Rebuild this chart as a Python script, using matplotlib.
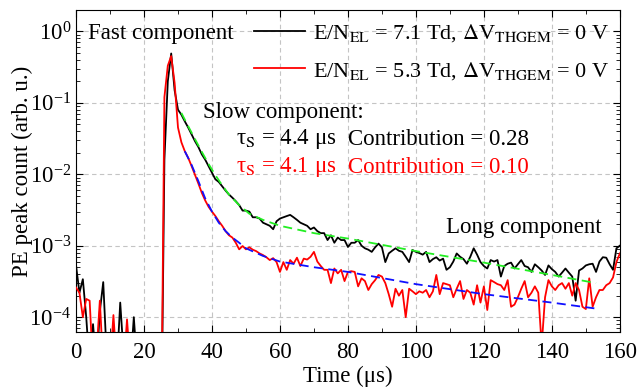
import numpy as np
import matplotlib
matplotlib.use('Agg')
import matplotlib.pyplot as plt
from matplotlib.ticker import MultipleLocator, LogLocator, NullFormatter

plt.rcParams['font.family'] = ['Liberation Serif', 'DejaVu Serif']
plt.rcParams['mathtext.fontset'] = 'stix'
fs = 16.5

# time axis (us), 1 us bins
time = np.arange(0, 161)

# E/N_EL = 7.1 Td (black)
black = [5.3e-4, 2.2e-4, 3.4e-4, 1.0e-4, 2e-5, 8e-5, 2e-5, 1.2e-4, 3.1e-4, 3e-5,
         2e-5, 7e-5, 2e-5, 1.6e-4, 3e-5, 2e-5, 2e-5, 1.0e-4, 2e-5, 1e-6,
         1e-6, 1e-6, 1e-6, 1e-6, 1e-6, 1e-6, 0.016, 0.2, 0.49, 0.15,
         0.08, 0.068, 0.055, 0.045, 0.036, 0.029, 0.024, 0.019, 0.016, 0.013,
         0.0105, 0.0085, 0.0078, 0.0068, 0.0059, 0.0052, 0.0047, 0.0042, 0.0037, 0.0031,
         0.0031, 0.0030, 0.0025, 0.0025, 0.0024, 0.0021, 0.0020, 0.0019, 0.0017, 0.0022,
         0.0024, 0.0025, 0.0026, 0.0027, 0.0025, 0.0023, 0.0021, 0.0020, 0.0019, 0.0017,
         0.0018, 0.0016, 0.0015, 0.0015, 0.0012, 0.0014, 0.0011, 0.0013, 0.0012, 0.0012,
         0.00096, 0.0011, 0.0011, 0.0012, 0.0010, 0.00092, 0.00088, 0.00082, 0.00095, 0.00107,
         0.00095, 0.00059, 0.00078, 0.00085, 0.00092, 0.00085, 0.00082, 0.00070, 0.00059, 0.00087,
         0.00082, 0.00079, 0.00075, 0.00082, 0.00059, 0.00065, 0.00069, 0.00062, 0.00066, 0.00046,
         0.00050, 0.00060, 0.00078, 0.00070, 0.00065, 0.00056, 0.00070, 0.00092, 0.00075, 0.00059,
         0.00052, 0.00048, 0.00063, 0.00060, 0.00063, 0.00037, 0.00052, 0.00056, 0.00058, 0.00048,
         0.00055, 0.00063, 0.00052, 0.00050, 0.00043, 0.00055, 0.00050, 0.00045, 0.00039, 0.00053,
         0.00047, 0.00043, 0.00037, 0.00042, 0.00048, 0.00042, 0.00037, 0.00017, 0.00045, 0.00048,
         0.00053, 0.00055, 0.00056, 0.00043, 0.00060, 0.00069, 0.00068, 0.00055, 0.00046, 0.00092,
         0.0010]

# E/N_EL = 5.3 Td (red)
red = [2.6e-4, 2.2e-4, 1.0e-4, 1.8e-4, 1.7e-4, 2e-5, 3e-5, 1.7e-4, 2e-5, 1e-5,
       2e-5, 1.07e-4, 2e-5, 1e-5, 2e-5, 9.3e-5, 2e-5, 1e-6, 1e-6, 1e-6,
       1e-6, 1e-6, 1e-6, 1e-6, 1e-6, 1e-6, 0.12, 0.33, 0.45, 0.19,
       0.045, 0.028, 0.021, 0.017, 0.013, 0.0098, 0.0074, 0.0055, 0.0043, 0.0035,
       0.0030, 0.0026, 0.0022, 0.0019, 0.0016, 0.0014, 0.0013, 0.0011, 0.00089, 0.00099,
       0.00089, 0.00095, 0.00088, 0.00084, 0.00078, 0.00074, 0.00069, 0.00063, 0.00067, 0.00059,
       0.00043, 0.00059, 0.00046, 0.00063, 0.00056, 0.00068, 0.00052, 0.00066, 0.00064, 0.00070,
       0.00082, 0.00060, 0.00052, 0.00046, 0.00046, 0.00030, 0.00048, 0.00041, 0.00046, 0.00032,
       0.00043, 0.00044, 0.00043, 0.00027, 0.00035, 0.00032, 0.00024, 0.00029, 0.00033, 0.00039,
       0.00037, 0.00030, 0.00021, 0.00014, 0.00025, 0.00020, 0.00024, 0.00010, 0.00025, 0.00023,
       0.00021, 0.00023, 0.00022, 0.00024, 0.00019, 0.00023, 0.00039, 0.00021, 0.00030, 0.00029,
       0.00028, 0.00019, 0.00025, 0.00032, 0.00018, 0.00024, 0.00022, 0.00015, 0.00028, 0.00016,
       0.00027, 0.000126, 0.00033, 0.00031, 0.00029, 0.00028, 0.00024, 0.00033, 0.00014, 0.00015,
       0.00019, 0.00025, 0.00032, 0.00019, 0.00022, 0.00027, 0.00022, 4e-5, 0.00019, 0.00033,
       0.00027, 0.00024, 0.00028, 0.00030, 0.00025, 0.00030, 0.00020, 0.00030, 0.00024, 0.00014,
       0.00013, 0.00035, 0.00014, 0.00019, 0.00024, 0.00024, 0.00028, 0.00030, 0.00036, 0.00059,
       0.00078]

# fit curves
fit_black_t = [31, 33, 35, 37, 39, 41, 43, 45, 48, 51, 55, 60, 70, 80, 100, 120, 140, 153]
fit_black = [0.072, 0.047, 0.031, 0.0206, 0.0139, 0.0097, 0.0070, 0.0052, 0.0037, 0.0028,
             0.0023, 0.0019, 0.0015, 0.00126, 0.00084, 0.00058, 0.00039, 0.00030]
fit_red_t = [32, 34, 36, 38, 40, 42, 44, 46, 48, 50, 55, 60, 70, 80, 100, 120, 140, 154]
fit_red = [0.021, 0.0135, 0.0080, 0.0046, 0.0030, 0.0021, 0.0016, 0.0013, 0.0011, 0.00092,
           0.00072, 0.00060, 0.00050, 0.00043, 0.00029, 0.00021, 0.00016, 0.00013]

fig = plt.figure(figsize=(6.39, 3.92), dpi=100)
ax = fig.add_axes([0.119, 0.153, 0.851, 0.822])

l1, = ax.plot(time, black, color='black', lw=1.3, zorder=3)
l2, = ax.plot(time, red, color='red', lw=1.3, zorder=3)
ax.plot(fit_black_t, fit_black, color='#22ee22', lw=1.3, ls=(0, (5, 3)), zorder=4)
ax.plot(fit_red_t, fit_red, color='#1010ff', lw=1.3, ls=(0, (5, 3)), zorder=4)

ax.set_yscale('log')
ax.set_xlim(0, 160)
ax.set_ylim(6.2e-5, 2.0)
ax.xaxis.set_major_locator(MultipleLocator(20))
ax.xaxis.set_minor_locator(MultipleLocator(10))
ax.yaxis.set_minor_locator(LogLocator(base=10, subs=np.arange(2, 10)))
ax.yaxis.set_minor_formatter(NullFormatter())
ax.tick_params(which='both', direction='in', top=True, right=True)
ax.tick_params(which='major', length=5, labelsize=fs)
ax.tick_params(which='minor', length=3)
ax.tick_params(axis='x', which='major', pad=7)
ax.grid(True, which='major', color='#c4c4c4', ls=(0, (4, 3)), lw=0.8)

ax.set_xlabel('Time (μs)', fontsize=fs, labelpad=2)
ax.set_ylabel('PE peak count (arb. u.)', fontsize=fs, labelpad=-2.5)

ax.legend([l1, l2],
          [r'E/N$_{\rm EL}$ = 7.1 Td, $\Delta$V$_{\rm THGEM}$ = 0 V',
           r'E/N$_{\rm EL}$ = 5.3 Td, $\Delta$V$_{\rm THGEM}$ = 0 V'],
          loc='upper right', bbox_to_anchor=(0.997, 0.99), frameon=False,
          handlelength=2.3, handletextpad=0.35,
          borderaxespad=0.0, labelspacing=0.72, fontsize=16)

ax.text(3.5, 0.94, 'Fast component', va='center', ha='left', fontsize=fs)
ax.text(37.4, 0.074, 'Slow component:', va='center', ha='left', fontsize=fs)
ax.text(47.2, 0.031, r'τ$_{\rm S}$ = 4.4 μs', va='center', ha='left', fontsize=fs)
ax.text(80, 0.031, 'Contribution = 0.28', va='center', ha='left', fontsize=fs)
ax.text(47.2, 0.0125, r'τ$_{\rm S}$ = 4.1 μs', va='center', ha='left', color='red', fontsize=fs)
ax.text(80, 0.0125, 'Contribution = 0.10', va='center', ha='left', color='red', fontsize=fs)
ax.text(109, 0.0018, 'Long component', va='center', ha='left', fontsize=fs)

fig.savefig('out.png', dpi=100)
